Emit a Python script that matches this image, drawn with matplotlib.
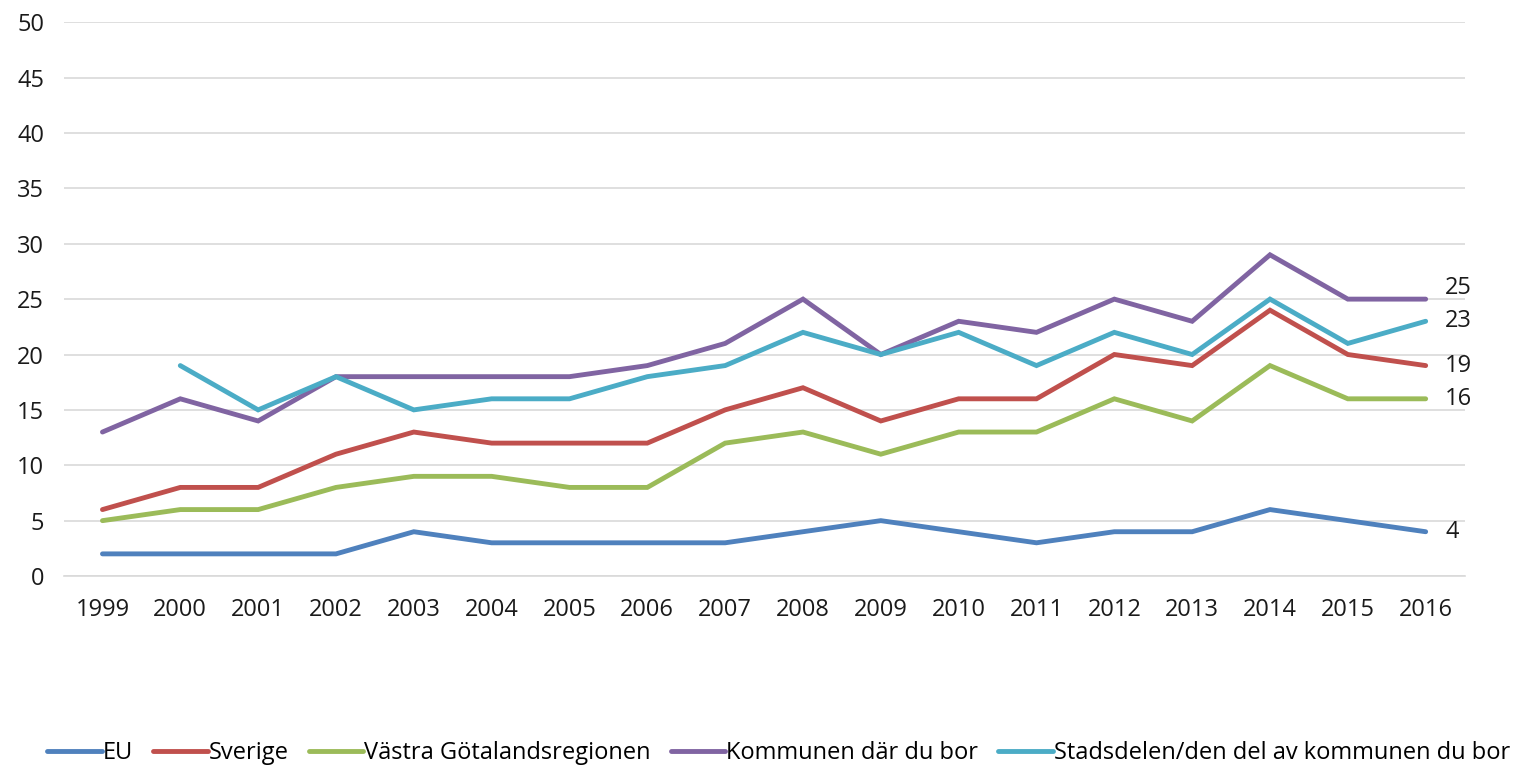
import matplotlib
matplotlib.use("Agg")
import matplotlib.pyplot as plt
import numpy as np

plt.rcParams["font.family"] = ["Open Sans", "DejaVu Sans"]

# ── Data ───────────────────────────────────────────────────────
years = [str(y) for y in range(1999, 2017)]
eu = [2, 2, 2, 2, 4, 3, 3, 3, 3, 4, 5, 4, 3, 4, 4, 6, 5, 4]
sverige = [6, 8, 8, 11, 13, 12, 12, 12, 15, 17, 14, 16, 16, 20, 19, 24, 20, 19]
vgr = [5, 6, 6, 8, 9, 9, 8, 8, 12, 13, 11, 13, 13, 16, 14, 19, 16, 16]
kommun = [13, 16, 14, 18, 18, 18, 18, 19, 21, 25, 20, 23, 22, 25, 23, 29, 25, 25]
stadsdel = [np.nan, 19, 15, 18, 15, 16, 16, 18, 19, 22, 20, 22, 19, 22, 20, 25, 21, 23]

series = [
    ("EU", eu, "#4F81BD", 0),
    ("Sverige", sverige, "#C0504D", 0),
    ("Västra Götalandsregionen", vgr, "#9BBB59", 0),
    ("Kommunen där du bor", kommun, "#8064A2", 8),
    ("Stadsdelen/den del av kommunen du bor", stadsdel, "#4BACC6", 0),
]

FS = 17

# ── Plot ───────────────────────────────────────────────────────
fig = plt.figure(figsize=(15.13, 7.66), dpi=100)
ax = fig.add_axes([0.042, 0.248, 0.926, 0.723])

x = np.arange(len(years))
for name, vals, color, dy in series:
    ax.plot(x, vals, color=color, lw=3.5, label=name, solid_capstyle="round",
            solid_joinstyle="miter")
    ax.annotate(f"{vals[-1]:g}", (x[-1], vals[-1]), xytext=(14, dy),
                textcoords="offset points", ha="left", va="center",
                fontsize=FS, color="#1a1a1a")

ax.set_xlim(-0.5, len(years) - 0.5)
ax.set_ylim(0, 50)
ax.set_yticks(range(0, 51, 5))
ax.set_xticks(x)
ax.set_xticklabels(years)
ax.grid(axis="y", color="#d9d9d9", lw=1.2)
ax.set_axisbelow(True)
for s in ["top", "right", "left"]:
    ax.spines[s].set_visible(False)
ax.spines["bottom"].set_color("#d9d9d9")
ax.spines["bottom"].set_linewidth(1.2)
ax.tick_params(axis="both", length=0, labelsize=FS, colors="#1a1a1a")
ax.tick_params(axis="x", pad=16)
ax.tick_params(axis="y", pad=14)

fig.legend(loc="lower left", bbox_to_anchor=(0.022, -0.017), ncol=5,
           frameon=False, fontsize=FS, handlelength=2.3, handletextpad=0.05,
           columnspacing=0.85, borderaxespad=0.2)

plt.savefig("out.png", dpi=100)
